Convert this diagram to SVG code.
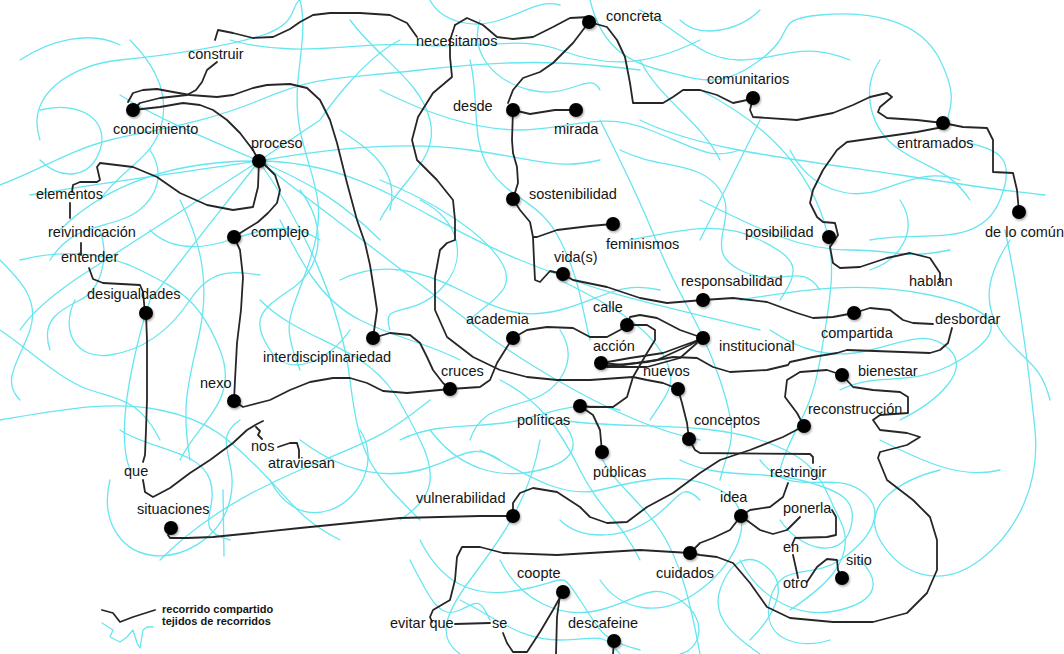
<svg xmlns="http://www.w3.org/2000/svg" width="1064" height="654" viewBox="0 0 1064 654">
<defs>
<filter id="sh" x="-50%" y="-50%" width="200%" height="200%"><feDropShadow dx="1" dy="1.5" stdDeviation="1" flood-color="#000" flood-opacity="0.35"/></filter>
</defs>
<style>
.cy{fill:none;stroke:#66e6f0;stroke-width:1.3;stroke-linecap:round;stroke-linejoin:round}
.bk{fill:none;stroke:#262626;stroke-width:1.8;stroke-linecap:round;stroke-linejoin:round}
.dot{fill:#000;filter:url(#sh)}
text{font-family:"Liberation Sans",Arial,sans-serif;font-size:14.5px;fill:#151515}
.lg{font-size:11px;font-weight:bold}
</style>
<rect width="1064" height="654" fill="#fff"/>
<g id="tejidos">
<path class="cy" d="M40,140 C25,95 70,65 120,60 S220,48 260,36 S290,5 300,0"/>
<path class="cy" d="M0,185 C40,170 70,150 110,140 S200,125 260,100 S330,80 420,70 S560,60 640,70"/>
<path class="cy" d="M60,230 C90,200 150,160 259,161 S420,220 520,260 S640,300 760,330"/>
<path class="cy" d="M30,195 C120,180 200,170 259,161 L320,120 S360,60 400,40"/>
<path class="cy" d="M259,161 L150,300 S110,420 130,470"/>
<path class="cy" d="M259,161 L90,270 S40,300 20,330"/>
<path class="cy" d="M259,161 C300,220 340,300 350,380 S370,470 420,520"/>
<path class="cy" d="M259,161 L480,330 S600,420 700,440"/>
<path class="cy" d="M259,161 C320,150 400,140 470,150 S560,170 600,160"/>
<path class="cy" d="M120,95 C160,120 210,140 259,161 S340,200 380,240"/>
<path class="cy" d="M75,300 C60,330 75,360 110,355 S170,330 190,300 S230,270 260,275"/>
<path class="cy" d="M0,420 C60,410 110,400 160,410 S230,440 260,470 S300,520 340,540"/>
<path class="cy" d="M110,480 C100,520 120,550 150,555 S220,540 230,500 S210,440 240,420"/>
<path class="cy" d="M160,560 C190,530 230,500 300,470 S380,440 430,400"/>
<path class="cy" d="M300,0 C310,40 290,80 300,130 S330,200 310,260 S280,320 300,370"/>
<path class="cy" d="M350,20 C380,60 420,80 430,120 S400,180 380,220"/>
<path class="cy" d="M230,40 C300,60 360,40 420,45 S520,35 560,50 S640,70 700,40"/>
<path class="cy" d="M590,0 C600,40 620,60 660,70 S720,90 760,60 S770,20 820,15 S920,20 940,60 S948,110 945,130"/>
<path class="cy" d="M640,120 C700,150 800,160 900,175 S1000,190 1045,195"/>
<path class="cy" d="M700,90 C760,120 800,160 820,210 S830,300 820,360 S790,430 780,470"/>
<path class="cy" d="M1005,230 C1020,300 1030,380 1035,430 S1020,530 980,560 S900,575 880,540 S900,480 940,470"/>
<path class="cy" d="M870,240 C920,230 980,250 1000,200 S990,150 960,140"/>
<path class="cy" d="M740,300 C800,290 860,280 930,295 S1010,330 960,360 S880,370 840,390"/>
<path class="cy" d="M560,420 C620,430 700,420 760,440 S820,480 840,520 S820,590 790,610"/>
<path class="cy" d="M480,450 C520,470 560,500 600,490 S680,470 720,490 S740,560 700,590 S620,610 600,580"/>
<path class="cy" d="M500,560 C520,600 560,620 600,610 S650,580 680,600 S700,650 680,654"/>
<path class="cy" d="M420,540 C440,580 470,600 520,590 S560,570 580,600 S600,640 640,650"/>
<path class="cy" d="M600,454 C610,480 640,500 660,530 S690,600 700,654"/>
<path class="cy" d="M540,440 C530,500 500,540 470,580 S440,640 460,654"/>
<path class="cy" d="M680,460 C720,480 760,470 800,480 S860,500 850,530 S800,550 780,520"/>
<path class="cy" d="M740,560 C760,600 800,620 840,610 S880,580 860,560"/>
<path class="cy" d="M400,440 C440,420 480,430 520,420 S580,400 620,410"/>
<path class="cy" d="M340,280 C380,260 420,270 460,290 S520,320 560,310 S620,280 660,290"/>
<path class="cy" d="M380,180 C430,200 480,230 500,260 S490,300 470,320"/>
<path class="cy" d="M470,60 C480,100 470,140 490,170 S540,200 560,240 S580,300 590,340"/>
<path class="cy" d="M600,120 C620,160 640,200 660,250 S700,320 720,380 S730,440 720,480"/>
<path class="cy" d="M700,200 C760,230 800,250 850,250 S900,260 950,250"/>
<path class="cy" d="M630,240 C680,230 720,220 760,240 S800,270 780,300"/>
<path class="cy" d="M20,260 C60,250 100,250 140,270 S200,300 220,350 S200,420 180,460"/>
<path class="cy" d="M180,200 C200,240 210,280 200,330 S180,400 190,460"/>
<path class="cy" d="M280,220 C300,260 320,300 360,320 S420,340 460,360"/>
<path class="cy" d="M260,300 C290,330 330,340 360,360 S400,400 420,440 S430,500 400,520"/>
<path class="cy" d="M300,440 C340,470 380,480 420,470 S470,440 500,460"/>
<path class="cy" d="M560,520 C580,540 620,540 650,520 S680,480 700,500"/>
<path class="cy" d="M460,600 C500,620 520,640 560,640 S600,630 620,654"/>
<path class="cy" d="M750,640 C770,620 790,590 770,570 S730,560 720,590 S740,640 760,654"/>
<path class="cy" d="M100,230 C110,260 100,290 80,300 S40,320 50,350"/>
<path class="cy" d="M0,330 C30,350 60,380 90,390 S140,400 160,440"/>
<path class="cy" d="M130,40 C160,70 170,100 160,130 S120,170 100,200"/>
<path class="cy" d="M380,90 C420,110 470,130 520,130 S600,110 650,130 S710,160 740,150"/>
<path class="cy" d="M880,60 C860,90 870,130 900,150 S950,170 970,200"/>
<path class="cy" d="M760,120 C740,160 720,200 700,240"/>
<path class="cy" d="M410,560 C430,600 440,620 460,610 S480,600 490,620"/>
<path class="cy" d="M430,0 C440,20 470,30 500,20 S540,0 560,5"/>
<path class="cy" d="M560,280 C600,300 640,320 660,350 S670,390 650,420"/>
<path class="cy" d="M770,330 C800,350 830,360 870,350 S930,330 950,350 S940,400 900,420"/>
<path class="cy" d="M880,440 C920,460 960,480 1000,470"/>
<path class="cy" d="M1010,240 C990,270 980,300 1000,330 S1040,360 1050,400"/>
<path class="cy" d="M223,490 L224,556"/>
<path class="cy" d="M40,110 C80,100 110,120 100,150 S60,180 40,160"/>
<path class="cy" d="M150,230 C170,250 200,250 230,240 S290,220 320,240"/>
<path class="cy" d="M500,380 C540,400 560,430 580,470 S620,520 640,560"/>
<path class="cy" d="M640,10 C680,30 700,60 740,60 S800,40 850,60"/>
<path class="cy" d="M300,190 C330,230 320,270 290,290 S250,320 270,350 S330,360 350,330"/>
<path class="cy" d="M420,200 C460,220 470,260 440,290 S380,300 390,330"/>
<path class="cy" d="M620,150 C660,170 700,160 720,190 S700,250 740,270 S800,260 820,290"/>
<path class="cy" d="M640,60 C660,100 700,120 720,160"/>
<path class="cy" d="M120,430 C150,450 200,450 210,480 S190,530 230,540"/>
<path class="cy" d="M430,430 C460,470 500,480 540,470 S580,440 560,420"/>
<path class="cy" d="M760,460 C790,500 830,470 860,490 S870,540 840,560 S780,560 770,600 S800,650 830,640"/>
<path class="cy" d="M0,260 C20,280 40,300 30,330 S0,380 20,400"/>
<path class="cy" d="M360,430 C380,460 360,500 330,510 S280,500 270,480"/>
<path class="cy" d="M480,20 C470,50 490,80 530,90 S590,70 600,90"/>
<path class="cy" d="M680,20 C700,40 740,30 760,10"/>
<path class="cy" d="M900,200 C920,230 900,260 870,270"/>
<path class="cy" d="M560,330 C580,360 560,390 530,400 S480,410 470,440"/>
<path class="cy" d="M20,60 C50,40 90,30 120,45"/>
<path class="cy" d="M790,150 C810,190 850,200 880,190 S930,170 960,180"/>
<path class="cy" d="M340,130 C370,150 400,170 390,210"/>
<path class="cy" d="M150,150 C170,180 150,210 120,220 S70,230 50,260"/>
</g>
<g id="recorrido">
<path class="bk" d="M417,37 L407,23 L390,15 L360,13 L330,13 L313,15 L300,22 L290,29 L273,37 L253,38 L233,33 L218,30 L215,40"/>
<path class="bk" d="M217,62 L207,70 L202,82 L196,90 L187,95 L160,98 L140,103 L133,110"/>
<path class="bk" d="M128,102 L133,93 L143,90 L157,89 L173,92 L190,95 L217,97 L233,95 L253,88 L267,85 L290,84 L307,88 L320,100 L330,120 L337,143 L347,183 L357,220 L365,243 L370,265 L374,290 L377,310 L373,338"/>
<path class="bk" d="M133,110 L160,107 L183,103 L200,105 L213,110 L227,120 L240,133 L253,150 L259,161"/>
<path class="bk" d="M259,161 L258,187 L253,207 L233,210 L207,205 L180,193 L157,177 L133,167 L100,163 L97,167 L100,180 L97,182 L80,182 L73,185 L72,192"/>
<path class="bk" d="M265,165 L275,175 L280,190 L277,203 L268,213 L258,222 L245,230 L234,237"/>
<path class="bk" d="M234,237 L240,250 L243,277 L241,310 L237,343 L235,380 L234,401"/>
<path class="bk" d="M70,203 L70,218"/>
<path class="bk" d="M81,243 L81,255"/>
<path class="bk" d="M89,268 L93,279 L103,283 L140,285 L143,292 L145,313"/>
<path class="bk" d="M146,313 L147,340 L147,400 L146,430 L145,455 L143,462"/>
<path class="bk" d="M143,480 L145,492 L153,497 L170,488 L190,473 L210,460 L233,443 L247,430 L257,424 L263,421 M256,427 L260,431 L258,435 L262,439"/>
<path class="bk" d="M278,447 L290,443 L297,443 L299,450 L299,458"/>
<path class="bk" d="M234,401 L243,407 L270,400 L290,390 L310,382 L333,378 L350,378 L367,383 L383,391 L407,393 L440,390 L450,389"/>
<path class="bk" d="M373,338 L390,333 L410,335 L420,343 L427,357 L433,370 L443,383 L450,389"/>
<path class="bk" d="M450,389 L480,387 L490,380 L497,363 L507,347 L513,338"/>
<path class="bk" d="M513,338 L527,330 L547,327 L573,328 L590,337 L607,337 L620,330 L627,325"/>
<path class="bk" d="M627,325 L630,317 L640,315 L657,318 L680,330 L703,338"/>
<path class="bk" d="M627,325 L647,325 L655,330 L655,340 L647,353 L633,377 L627,397 L613,407 L590,407 L580,406"/>
<path class="bk" d="M602,363 L630,358 L663,353 L693,342 L703,338 M602,363 L623,365 L657,360 L690,345 L703,338 M607,367 L647,367 L680,358 L697,343"/>
<path class="bk" d="M607,366 L647,362 L673,357 L697,358 L713,367 L730,372 L767,370 L788,365 L790,362 L813,357 L837,353 L847,350 L930,353 L940,350 L948,343 L952,328"/>
<path class="bk" d="M703,300 L733,298 L767,302 L797,313 L813,318 L833,317 L854,313 L870,308 L890,310 L903,320 L913,323 L933,324"/>
<path class="bk" d="M563,274 L573,280 L607,287 L640,298 L667,303 L703,300"/>
<path class="bk" d="M513,199 L520,210 L530,222 L533,237 L537,237 L557,230 L590,226 L613,224 M533,237 L534,260 L535,280 L540,282 L550,271 L563,274"/>
<path class="bk" d="M513,110 L512,140 L513,153 L517,167 L518,183 L513,199"/>
<path class="bk" d="M513,110 L530,114 L555,110 L576,110"/>
<path class="bk" d="M508,103 L513,90 L523,78 L540,72 L553,63 L573,43 L589,22"/>
<path class="bk" d="M455,25 L467,18 L483,25 L497,37 L513,39 L533,37 L553,27 L570,18 L589,17"/>
<path class="bk" d="M455,25 L450,40 L450,57 L452,77 L433,93 L418,117 L412,140 L417,160 L437,180 L453,200 L455,220 L455,240 L447,243 L440,250 L435,277 L435,310 L447,337 L473,357 L500,370 L527,377 L557,380 L590,380 L633,377 L647,380 L663,383 L678,389"/>
<path class="bk" d="M589,22 L607,27 L617,40 L625,57 L630,83 L633,103 L663,103 L673,97 L683,90 L700,90 L717,95 L733,103 L747,100 L753,98"/>
<path class="bk" d="M753,98 L750,110 L753,117 L797,120 L833,113 L853,105 L870,97 L887,93 L892,97 L880,107 L878,112 L887,118 L917,120 L943,123"/>
<path class="bk" d="M943,123 L963,127 L987,128 L993,140 L993,172 L1013,173 L1017,190 L1019,212"/>
<path class="bk" d="M943,127 L917,132 L847,142 L837,150 L823,170 L813,190 L810,203 L817,217 L823,222 L835,223 L838,235 L830,247 L833,263 L840,268 L860,267 L887,258 L910,253 L930,258 L940,273 L940,282"/>
<path class="bk" d="M842,375 L827,370 L800,372 L787,380 L785,397 L797,413 L804,426"/>
<path class="bk" d="M842,375 L853,387 L873,390 L900,392 L908,397 L908,413 L880,415 L873,420 L880,430 L907,433 L920,437 L907,445 L880,452 L878,458 L887,480 L913,500 L930,517 L937,540 L937,570 L927,593 L907,613 L873,622 L833,622 L790,618 L767,607 L750,583 L733,563 L717,557 L700,555 L690,553"/>
<path class="bk" d="M804,426 L783,437 L750,450 L720,460 L700,473 L673,493 L647,507 L627,522 L607,523 L590,517 L580,507 L557,492 L533,488 L520,493 L513,503 L513,516"/>
<path class="bk" d="M689,439 L695,450 L700,453 L810,454 L813,457 L813,463"/>
<path class="bk" d="M788,483 L783,497 L770,507 L750,510 L741,516"/>
<path class="bk" d="M741,516 L760,530 L773,534 L787,530 L797,520 L800,517"/>
<path class="bk" d="M832,510 L836,517 L836,535 L827,537 L795,538 L792,545"/>
<path class="bk" d="M793,555 L797,573 L798,578"/>
<path class="bk" d="M807,582 L817,567 L827,559 L837,560 L838,570 L842,578"/>
<path class="bk" d="M741,516 L730,530 L713,538 L700,543 L690,553"/>
<path class="bk" d="M690,553 L640,550 L590,553 L557,555 L503,553 L480,547 L462,547 L457,557 L455,580 L450,600 L433,610 L430,617 L432,622"/>
<path class="bk" d="M455,624 L490,623"/>
<path class="bk" d="M503,633 L507,643 L513,652 L527,652 L540,632 L553,610 L563,592"/>
<path class="bk" d="M560,595 L557,617 L556,654"/>
<path class="bk" d="M614,641 L613,654"/>
<path class="bk" d="M513,516 L480,516 L440,517 L400,518 L360,522 L300,528 L253,533 L213,537 L187,538 L170,538 L168,535 L171,528"/>
<path class="bk" d="M580,406 L593,415 L600,430 L602,452"/>
<path class="bk" d="M678,389 L682,403 L687,423 L689,439"/>
</g>
<g id="n-construir"><text x="188" y="59">construir</text></g>
<g id="n-necesitamos"><text x="416" y="46">necesitamos</text></g>
<g id="n-concreta"><circle class="dot" cx="589" cy="22" r="7"/><text x="606" y="21">concreta</text></g>
<g id="n-conocimiento"><circle class="dot" cx="133" cy="110" r="7"/><text x="113" y="134">conocimiento</text></g>
<g id="n-proceso"><circle class="dot" cx="259" cy="161" r="7"/><text x="251" y="148">proceso</text></g>
<g id="n-desde"><circle class="dot" cx="513" cy="110" r="7"/><text x="453" y="111">desde</text></g>
<g id="n-mirada"><circle class="dot" cx="576" cy="110" r="7"/><text x="554" y="134">mirada</text></g>
<g id="n-comunitarios"><circle class="dot" cx="753" cy="98" r="7"/><text x="707" y="84">comunitarios</text></g>
<g id="n-entramados"><circle class="dot" cx="943" cy="123" r="7"/><text x="897" y="148">entramados</text></g>
<g id="n-elementos"><text x="36" y="199">elementos</text></g>
<g id="n-sostenibilidad"><circle class="dot" cx="513" cy="199" r="7"/><text x="529" y="199">sostenibilidad</text></g>
<g id="n-reivindicacion"><text x="48" y="237">reivindicación</text></g>
<g id="n-complejo"><circle class="dot" cx="234" cy="237" r="7"/><text x="251" y="237">complejo</text></g>
<g id="n-posibilidad"><circle class="dot" cx="829" cy="237" r="7"/><text x="745" y="237">posibilidad</text></g>
<g id="n-delocomun"><circle class="dot" cx="1019" cy="212" r="7"/><text x="985" y="237">de lo común</text></g>
<g id="n-feminismos"><circle class="dot" cx="613" cy="224" r="7"/><text x="606" y="249">feminismos</text></g>
<g id="n-entender"><text x="61" y="262">entender</text></g>
<g id="n-vidas"><circle class="dot" cx="563" cy="274" r="7"/><text x="554" y="262">vida(s)</text></g>
<g id="n-responsabilidad"><circle class="dot" cx="703" cy="300" r="7"/><text x="681" y="286">responsabilidad</text></g>
<g id="n-hablan"><text x="909" y="286">hablan</text></g>
<g id="n-desigualdades"><circle class="dot" cx="146" cy="313" r="7"/><text x="87" y="299">desigualdades</text></g>
<g id="n-calle"><circle class="dot" cx="627" cy="325" r="7"/><text x="593" y="312">calle</text></g>
<g id="n-desbordar"><text x="935" y="324">desbordar</text></g>
<g id="n-academia"><circle class="dot" cx="513" cy="338" r="7"/><text x="466" y="324">academia</text></g>
<g id="n-compartida"><circle class="dot" cx="854" cy="313" r="7"/><text x="821" y="338">compartida</text></g>
<g id="n-accion"><circle class="dot" cx="601" cy="363" r="7"/><text x="593" y="351">acción</text></g>
<g id="n-institucional"><circle class="dot" cx="703" cy="338" r="7"/><text x="719" y="351">institucional</text></g>
<g id="n-interdisciplinariedad"><circle class="dot" cx="373" cy="338" r="7"/><text x="263" y="362">interdisciplinariedad</text></g>
<g id="n-cruces"><circle class="dot" cx="450" cy="389" r="7"/><text x="441" y="376">cruces</text></g>
<g id="n-nuevos"><circle class="dot" cx="678" cy="389" r="7"/><text x="643" y="376">nuevos</text></g>
<g id="n-bienestar"><circle class="dot" cx="842" cy="375" r="7"/><text x="858" y="376">bienestar</text></g>
<g id="n-nexo"><circle class="dot" cx="234" cy="401" r="7"/><text x="200" y="388">nexo</text></g>
<g id="n-reconstruccion"><circle class="dot" cx="804" cy="426" r="7"/><text x="808" y="414">reconstrucción</text></g>
<g id="n-politicas"><circle class="dot" cx="580" cy="406" r="7"/><text x="517" y="425">políticas</text></g>
<g id="n-conceptos"><circle class="dot" cx="689" cy="439" r="7"/><text x="694" y="425">conceptos</text></g>
<g id="n-nos"><text x="251" y="451">nos</text></g>
<g id="n-atraviesan"><text x="268" y="468">atraviesan</text></g>
<g id="n-que"><text x="124" y="476">que</text></g>
<g id="n-publicas"><circle class="dot" cx="602" cy="452" r="7"/><text x="593" y="477">públicas</text></g>
<g id="n-restringir"><text x="770" y="477">restringir</text></g>
<g id="n-idea"><circle class="dot" cx="741" cy="516" r="7"/><text x="720" y="502">idea</text></g>
<g id="n-vulnerabilidad"><circle class="dot" cx="513" cy="516" r="7"/><text x="416" y="503">vulnerabilidad</text></g>
<g id="n-ponerla"><text x="783" y="513">ponerla</text></g>
<g id="n-situaciones"><circle class="dot" cx="171" cy="528" r="7"/><text x="137" y="514">situaciones</text></g>
<g id="n-en"><text x="783" y="552">en</text></g>
<g id="n-sitio"><circle class="dot" cx="842" cy="578" r="7"/><text x="846" y="565">sitio</text></g>
<g id="n-cuidados"><circle class="dot" cx="690" cy="553" r="7"/><text x="656" y="578">cuidados</text></g>
<g id="n-coopte"><circle class="dot" cx="563" cy="592" r="7"/><text x="517" y="578">coopte</text></g>
<g id="n-otro"><text x="783" y="588">otro</text></g>
<g id="n-evitarque"><text x="390" y="628">evitar que</text></g>
<g id="n-se"><text x="492" y="628">se</text></g>
<g id="n-descafeine"><circle class="dot" cx="614" cy="641" r="7"/><text x="568" y="628">descafeine</text></g>
<g id="legend">
<path class="bk" d="M102,610 L113,613 L120,622 L133,617 L155,610"/>
<path class="cy" d="M102,623 L113,630 L110,637 L120,642 L127,637 L133,630 L137,643 L140,648 L143,630 L147,627 L153,627"/>
<text class="lg" x="162" y="613">recorrido compartido</text>
<text class="lg" x="162" y="625">tejidos de recorridos</text>
</g>
</svg>
